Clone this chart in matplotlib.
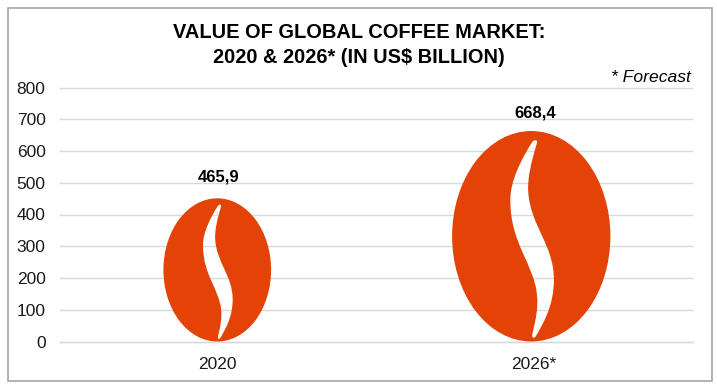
import matplotlib
matplotlib.use("Agg")
import matplotlib.pyplot as plt
from matplotlib.patches import PathPatch, Rectangle
from matplotlib.path import Path
from matplotlib.transforms import Affine2D

categories = ["2020", "2026*"]
values = [465.9, 668.4]
value_labels = ["465,9", "668,4"]
bean_heights = [451, 663]   # drawn height of each bean on the axis
yticks = [0, 100, 200, 300, 400, 500, 600, 700, 800]

plt.rcParams["font.family"] = ["Liberation Sans", "DejaVu Sans"]
W, H = 717, 387
fig = plt.figure(figsize=(W / 100, H / 100), dpi=100, facecolor="white")
fig.add_artist(Rectangle((7.5 / W, 1 - 381 / H), 704 / W, 373 / H, transform=fig.transFigure,
                         fc="white", ec="#a6a6a6", lw=1.2, zorder=-1))

L, R, T, B = 59.5, 692.5, 87.5, 341.5
ax = fig.add_axes([L / W, 1 - B / H, (R - L) / W, (B - T) / H])
ax.set_facecolor("none")
ax.set_xlim(-0.5, 1.5)
ax.set_ylim(0, 800)
ax.set_yticks(yticks)
ax.set_xticks(range(len(categories)))
ax.set_xticklabels(categories)
ax.tick_params(length=0, labelsize=12.5, labelcolor="#1a1a1a")
ax.tick_params(axis="y", pad=10)
ax.tick_params(axis="x", pad=11)
ax.grid(axis="y", color="#d9d9d9", lw=1.0, zorder=0, clip_on=False, solid_capstyle="butt")
ax.grid(axis="x", visible=False)
ax.set_axisbelow(True)
for s in ax.spines.values():
    s.set_visible(False)
ax.spines["bottom"].set_visible(True)
ax.spines["bottom"].set_color("#d9d9d9")
ax.spines["bottom"].set_linewidth(1.0)

# S-shaped slit of the bean glyph as cubic segments, clockwise, traced on the large bean in pixels
slit_bezier = [(536.7, 143),
               (531, 162), (527, 178), (528, 192),
               (530, 226), (553.7, 245), (553.7, 280),
               (553.7, 305), (544, 322), (536, 336),
               (534, 339.5), (531.5, 339), (532, 335),
               (536, 318), (538, 308), (536.8, 296),
               (534.5, 265), (510, 245), (510, 200),
               (510, 180), (522, 158), (532, 142),
               (534, 139.5), (537.8, 139.5), (536.7, 143)]
glyph_cx, glyph_cy, glyph_hw, glyph_hh = 531, 236.5, 79.3, 105.5
verts = [((x - glyph_cx) / glyph_hw, -(y - glyph_cy) / glyph_hh) for x, y in slit_bezier]
slit_path = Path(verts, [Path.MOVETO] + [Path.CURVE4] * (len(verts) - 1))
bean_glyph = Path.make_compound_path(Path.unit_circle(), slit_path)

x_per_px = 2 / (R - L)
y_per_px = 800 / (B - T)
bean_aspect = 0.752
bean_shift_px = [-0.5, -3]

for i, (bh, val, lab) in enumerate(zip(bean_heights, values, value_labels)):
    h_px = bh / y_per_px
    w = h_px * bean_aspect * x_per_px
    xc = i + bean_shift_px[i] * x_per_px
    tr = Affine2D().scale(w / 2, bh / 2).translate(xc, bh / 2) + ax.transData
    ax.add_patch(PathPatch(bean_glyph, fc="#e34307", ec="none", transform=tr, zorder=3))
    ax.annotate(lab, (i, val), xytext=(0.5, 16.5), textcoords="offset pixels", ha="center", va="center",
                fontsize=12, fontweight="bold", color="black", zorder=5)

fig.text(359 / W, 1 - 32.5 / H, "VALUE OF GLOBAL COFFEE MARKET:", ha="center", va="center",
         fontsize=14.4, fontweight="bold", color="black")
fig.text(359 / W, 1 - 57.5 / H, "2020 & 2026* (IN US$ BILLION)", ha="center", va="center",
         fontsize=14.4, fontweight="bold", color="black")
fig.text(690.5 / W, 1 - 77 / H, "* Forecast", ha="right", va="center",
         fontsize=12.6, fontstyle="italic", color="black")

fig.savefig("out.png", dpi=100)
